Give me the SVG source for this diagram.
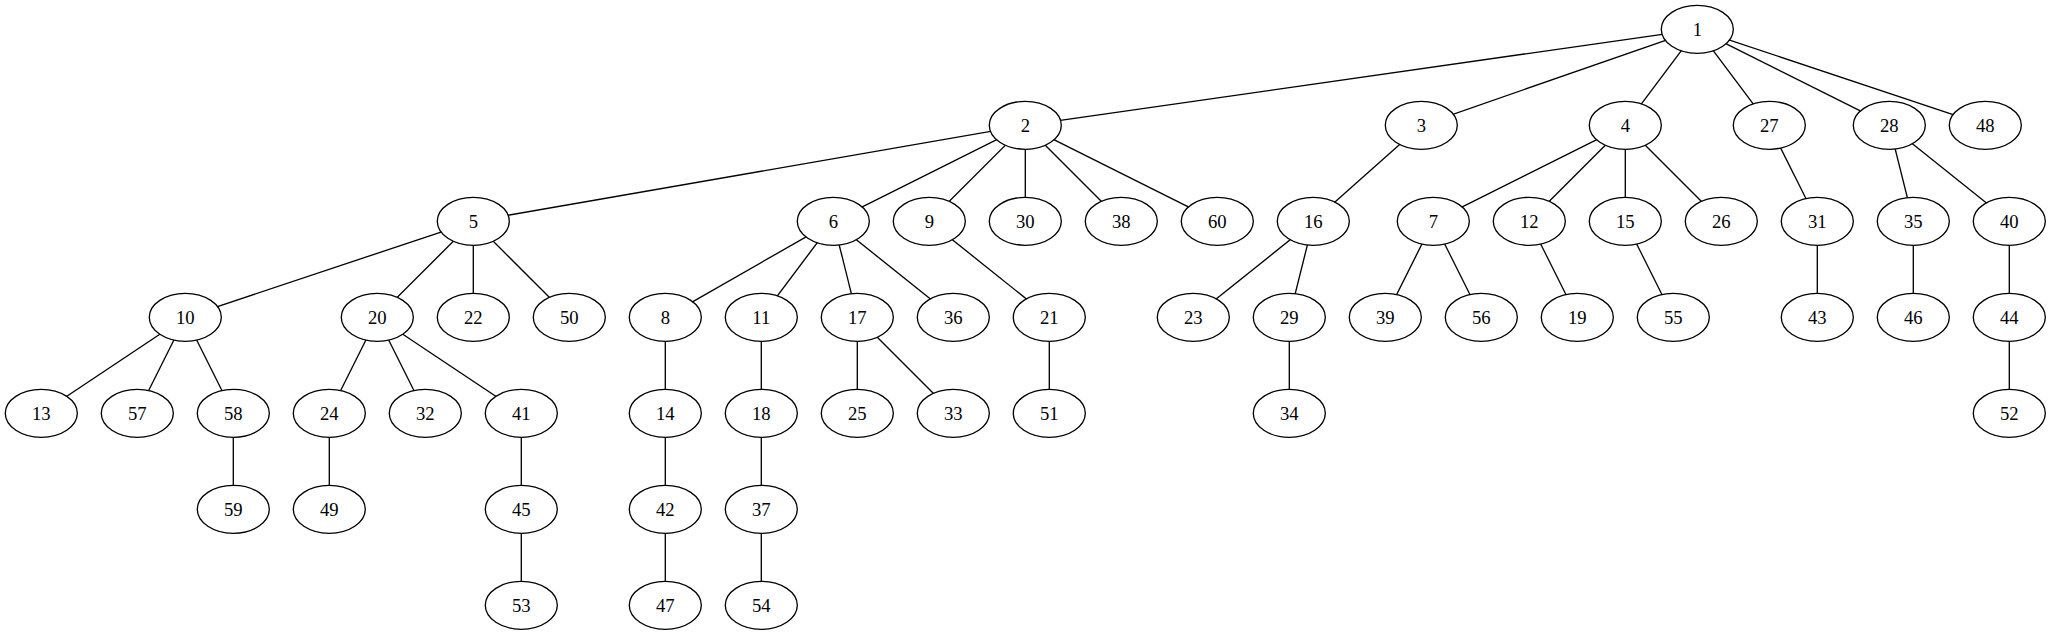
<svg xmlns="http://www.w3.org/2000/svg" width="2051" height="635" viewBox="0 0 2051 635">
<style>
.n ellipse{fill:#fff;stroke:#000;stroke-width:1.33}
.n text{font-family:"Liberation Serif","Times New Roman",serif;font-size:18.67px;text-anchor:middle;fill:#000}
#edges line{stroke:#000;stroke-width:1.33}
</style>
<rect width="2051" height="635" fill="#fff"/>
<g id="edges">
<line x1="1697.3" y1="29.3" x2="1025.3" y2="125.3"/>
<line x1="1697.3" y1="29.3" x2="1421.3" y2="125.3"/>
<line x1="1697.3" y1="29.3" x2="1625.3" y2="125.3"/>
<line x1="1697.3" y1="29.3" x2="1769.3" y2="125.3"/>
<line x1="1697.3" y1="29.3" x2="1889.3" y2="125.3"/>
<line x1="1697.3" y1="29.3" x2="1985.3" y2="125.3"/>
<line x1="1025.3" y1="125.3" x2="473.3" y2="221.3"/>
<line x1="1025.3" y1="125.3" x2="833.3" y2="221.3"/>
<line x1="1025.3" y1="125.3" x2="929.3" y2="221.3"/>
<line x1="1025.3" y1="125.3" x2="1025.3" y2="221.3"/>
<line x1="1025.3" y1="125.3" x2="1121.3" y2="221.3"/>
<line x1="1025.3" y1="125.3" x2="1217.3" y2="221.3"/>
<line x1="1421.3" y1="125.3" x2="1313.3" y2="221.3"/>
<line x1="1625.3" y1="125.3" x2="1433.3" y2="221.3"/>
<line x1="1625.3" y1="125.3" x2="1529.3" y2="221.3"/>
<line x1="1625.3" y1="125.3" x2="1625.3" y2="221.3"/>
<line x1="1625.3" y1="125.3" x2="1721.3" y2="221.3"/>
<line x1="1769.3" y1="125.3" x2="1817.3" y2="221.3"/>
<line x1="1889.3" y1="125.3" x2="1913.3" y2="221.3"/>
<line x1="1889.3" y1="125.3" x2="2009.3" y2="221.3"/>
<line x1="473.3" y1="221.3" x2="185.3" y2="317.3"/>
<line x1="473.3" y1="221.3" x2="377.3" y2="317.3"/>
<line x1="473.3" y1="221.3" x2="473.3" y2="317.3"/>
<line x1="473.3" y1="221.3" x2="569.3" y2="317.3"/>
<line x1="833.3" y1="221.3" x2="665.3" y2="317.3"/>
<line x1="833.3" y1="221.3" x2="761.3" y2="317.3"/>
<line x1="833.3" y1="221.3" x2="857.3" y2="317.3"/>
<line x1="833.3" y1="221.3" x2="953.3" y2="317.3"/>
<line x1="929.3" y1="221.3" x2="1049.3" y2="317.3"/>
<line x1="1313.3" y1="221.3" x2="1193.3" y2="317.3"/>
<line x1="1313.3" y1="221.3" x2="1289.3" y2="317.3"/>
<line x1="1433.3" y1="221.3" x2="1385.3" y2="317.3"/>
<line x1="1433.3" y1="221.3" x2="1481.3" y2="317.3"/>
<line x1="1529.3" y1="221.3" x2="1577.3" y2="317.3"/>
<line x1="1625.3" y1="221.3" x2="1673.3" y2="317.3"/>
<line x1="1817.3" y1="221.3" x2="1817.3" y2="317.3"/>
<line x1="1913.3" y1="221.3" x2="1913.3" y2="317.3"/>
<line x1="2009.3" y1="221.3" x2="2009.3" y2="317.3"/>
<line x1="185.3" y1="317.3" x2="41.3" y2="413.3"/>
<line x1="185.3" y1="317.3" x2="137.3" y2="413.3"/>
<line x1="185.3" y1="317.3" x2="233.3" y2="413.3"/>
<line x1="377.3" y1="317.3" x2="329.3" y2="413.3"/>
<line x1="377.3" y1="317.3" x2="425.3" y2="413.3"/>
<line x1="377.3" y1="317.3" x2="521.3" y2="413.3"/>
<line x1="665.3" y1="317.3" x2="665.3" y2="413.3"/>
<line x1="761.3" y1="317.3" x2="761.3" y2="413.3"/>
<line x1="857.3" y1="317.3" x2="857.3" y2="413.3"/>
<line x1="857.3" y1="317.3" x2="953.3" y2="413.3"/>
<line x1="1049.3" y1="317.3" x2="1049.3" y2="413.3"/>
<line x1="1289.3" y1="317.3" x2="1289.3" y2="413.3"/>
<line x1="2009.3" y1="317.3" x2="2009.3" y2="413.3"/>
<line x1="233.3" y1="413.3" x2="233.3" y2="509.3"/>
<line x1="329.3" y1="413.3" x2="329.3" y2="509.3"/>
<line x1="521.3" y1="413.3" x2="521.3" y2="509.3"/>
<line x1="665.3" y1="413.3" x2="665.3" y2="509.3"/>
<line x1="761.3" y1="413.3" x2="761.3" y2="509.3"/>
<line x1="521.3" y1="509.3" x2="521.3" y2="605.3"/>
<line x1="665.3" y1="509.3" x2="665.3" y2="605.3"/>
<line x1="761.3" y1="509.3" x2="761.3" y2="605.3"/>
</g>
<g id="n1" class="n"><ellipse cx="1697.3" cy="29.3" rx="36" ry="24"/><text x="1697.3" y="35.5">1</text></g>
<g id="n2" class="n"><ellipse cx="1025.3" cy="125.3" rx="36" ry="24"/><text x="1025.3" y="131.5">2</text></g>
<g id="n3" class="n"><ellipse cx="1421.3" cy="125.3" rx="36" ry="24"/><text x="1421.3" y="131.5">3</text></g>
<g id="n4" class="n"><ellipse cx="1625.3" cy="125.3" rx="36" ry="24"/><text x="1625.3" y="131.5">4</text></g>
<g id="n27" class="n"><ellipse cx="1769.3" cy="125.3" rx="36" ry="24"/><text x="1769.3" y="131.5">27</text></g>
<g id="n28" class="n"><ellipse cx="1889.3" cy="125.3" rx="36" ry="24"/><text x="1889.3" y="131.5">28</text></g>
<g id="n48" class="n"><ellipse cx="1985.3" cy="125.3" rx="36" ry="24"/><text x="1985.3" y="131.5">48</text></g>
<g id="n5" class="n"><ellipse cx="473.3" cy="221.3" rx="36" ry="24"/><text x="473.3" y="227.5">5</text></g>
<g id="n6" class="n"><ellipse cx="833.3" cy="221.3" rx="36" ry="24"/><text x="833.3" y="227.5">6</text></g>
<g id="n9" class="n"><ellipse cx="929.3" cy="221.3" rx="36" ry="24"/><text x="929.3" y="227.5">9</text></g>
<g id="n30" class="n"><ellipse cx="1025.3" cy="221.3" rx="36" ry="24"/><text x="1025.3" y="227.5">30</text></g>
<g id="n38" class="n"><ellipse cx="1121.3" cy="221.3" rx="36" ry="24"/><text x="1121.3" y="227.5">38</text></g>
<g id="n60" class="n"><ellipse cx="1217.3" cy="221.3" rx="36" ry="24"/><text x="1217.3" y="227.5">60</text></g>
<g id="n16" class="n"><ellipse cx="1313.3" cy="221.3" rx="36" ry="24"/><text x="1313.3" y="227.5">16</text></g>
<g id="n7" class="n"><ellipse cx="1433.3" cy="221.3" rx="36" ry="24"/><text x="1433.3" y="227.5">7</text></g>
<g id="n12" class="n"><ellipse cx="1529.3" cy="221.3" rx="36" ry="24"/><text x="1529.3" y="227.5">12</text></g>
<g id="n15" class="n"><ellipse cx="1625.3" cy="221.3" rx="36" ry="24"/><text x="1625.3" y="227.5">15</text></g>
<g id="n26" class="n"><ellipse cx="1721.3" cy="221.3" rx="36" ry="24"/><text x="1721.3" y="227.5">26</text></g>
<g id="n31" class="n"><ellipse cx="1817.3" cy="221.3" rx="36" ry="24"/><text x="1817.3" y="227.5">31</text></g>
<g id="n35" class="n"><ellipse cx="1913.3" cy="221.3" rx="36" ry="24"/><text x="1913.3" y="227.5">35</text></g>
<g id="n40" class="n"><ellipse cx="2009.3" cy="221.3" rx="36" ry="24"/><text x="2009.3" y="227.5">40</text></g>
<g id="n10" class="n"><ellipse cx="185.3" cy="317.3" rx="36" ry="24"/><text x="185.3" y="323.5">10</text></g>
<g id="n20" class="n"><ellipse cx="377.3" cy="317.3" rx="36" ry="24"/><text x="377.3" y="323.5">20</text></g>
<g id="n22" class="n"><ellipse cx="473.3" cy="317.3" rx="36" ry="24"/><text x="473.3" y="323.5">22</text></g>
<g id="n50" class="n"><ellipse cx="569.3" cy="317.3" rx="36" ry="24"/><text x="569.3" y="323.5">50</text></g>
<g id="n8" class="n"><ellipse cx="665.3" cy="317.3" rx="36" ry="24"/><text x="665.3" y="323.5">8</text></g>
<g id="n11" class="n"><ellipse cx="761.3" cy="317.3" rx="36" ry="24"/><text x="761.3" y="323.5">11</text></g>
<g id="n17" class="n"><ellipse cx="857.3" cy="317.3" rx="36" ry="24"/><text x="857.3" y="323.5">17</text></g>
<g id="n36" class="n"><ellipse cx="953.3" cy="317.3" rx="36" ry="24"/><text x="953.3" y="323.5">36</text></g>
<g id="n21" class="n"><ellipse cx="1049.3" cy="317.3" rx="36" ry="24"/><text x="1049.3" y="323.5">21</text></g>
<g id="n23" class="n"><ellipse cx="1193.3" cy="317.3" rx="36" ry="24"/><text x="1193.3" y="323.5">23</text></g>
<g id="n29" class="n"><ellipse cx="1289.3" cy="317.3" rx="36" ry="24"/><text x="1289.3" y="323.5">29</text></g>
<g id="n39" class="n"><ellipse cx="1385.3" cy="317.3" rx="36" ry="24"/><text x="1385.3" y="323.5">39</text></g>
<g id="n56" class="n"><ellipse cx="1481.3" cy="317.3" rx="36" ry="24"/><text x="1481.3" y="323.5">56</text></g>
<g id="n19" class="n"><ellipse cx="1577.3" cy="317.3" rx="36" ry="24"/><text x="1577.3" y="323.5">19</text></g>
<g id="n55" class="n"><ellipse cx="1673.3" cy="317.3" rx="36" ry="24"/><text x="1673.3" y="323.5">55</text></g>
<g id="n43" class="n"><ellipse cx="1817.3" cy="317.3" rx="36" ry="24"/><text x="1817.3" y="323.5">43</text></g>
<g id="n46" class="n"><ellipse cx="1913.3" cy="317.3" rx="36" ry="24"/><text x="1913.3" y="323.5">46</text></g>
<g id="n44" class="n"><ellipse cx="2009.3" cy="317.3" rx="36" ry="24"/><text x="2009.3" y="323.5">44</text></g>
<g id="n13" class="n"><ellipse cx="41.3" cy="413.3" rx="36" ry="24"/><text x="41.3" y="419.5">13</text></g>
<g id="n57" class="n"><ellipse cx="137.3" cy="413.3" rx="36" ry="24"/><text x="137.3" y="419.5">57</text></g>
<g id="n58" class="n"><ellipse cx="233.3" cy="413.3" rx="36" ry="24"/><text x="233.3" y="419.5">58</text></g>
<g id="n24" class="n"><ellipse cx="329.3" cy="413.3" rx="36" ry="24"/><text x="329.3" y="419.5">24</text></g>
<g id="n32" class="n"><ellipse cx="425.3" cy="413.3" rx="36" ry="24"/><text x="425.3" y="419.5">32</text></g>
<g id="n41" class="n"><ellipse cx="521.3" cy="413.3" rx="36" ry="24"/><text x="521.3" y="419.5">41</text></g>
<g id="n14" class="n"><ellipse cx="665.3" cy="413.3" rx="36" ry="24"/><text x="665.3" y="419.5">14</text></g>
<g id="n18" class="n"><ellipse cx="761.3" cy="413.3" rx="36" ry="24"/><text x="761.3" y="419.5">18</text></g>
<g id="n25" class="n"><ellipse cx="857.3" cy="413.3" rx="36" ry="24"/><text x="857.3" y="419.5">25</text></g>
<g id="n33" class="n"><ellipse cx="953.3" cy="413.3" rx="36" ry="24"/><text x="953.3" y="419.5">33</text></g>
<g id="n51" class="n"><ellipse cx="1049.3" cy="413.3" rx="36" ry="24"/><text x="1049.3" y="419.5">51</text></g>
<g id="n34" class="n"><ellipse cx="1289.3" cy="413.3" rx="36" ry="24"/><text x="1289.3" y="419.5">34</text></g>
<g id="n52" class="n"><ellipse cx="2009.3" cy="413.3" rx="36" ry="24"/><text x="2009.3" y="419.5">52</text></g>
<g id="n59" class="n"><ellipse cx="233.3" cy="509.3" rx="36" ry="24"/><text x="233.3" y="515.5">59</text></g>
<g id="n49" class="n"><ellipse cx="329.3" cy="509.3" rx="36" ry="24"/><text x="329.3" y="515.5">49</text></g>
<g id="n45" class="n"><ellipse cx="521.3" cy="509.3" rx="36" ry="24"/><text x="521.3" y="515.5">45</text></g>
<g id="n42" class="n"><ellipse cx="665.3" cy="509.3" rx="36" ry="24"/><text x="665.3" y="515.5">42</text></g>
<g id="n37" class="n"><ellipse cx="761.3" cy="509.3" rx="36" ry="24"/><text x="761.3" y="515.5">37</text></g>
<g id="n53" class="n"><ellipse cx="521.3" cy="605.3" rx="36" ry="24"/><text x="521.3" y="611.5">53</text></g>
<g id="n47" class="n"><ellipse cx="665.3" cy="605.3" rx="36" ry="24"/><text x="665.3" y="611.5">47</text></g>
<g id="n54" class="n"><ellipse cx="761.3" cy="605.3" rx="36" ry="24"/><text x="761.3" y="611.5">54</text></g>
</svg>
